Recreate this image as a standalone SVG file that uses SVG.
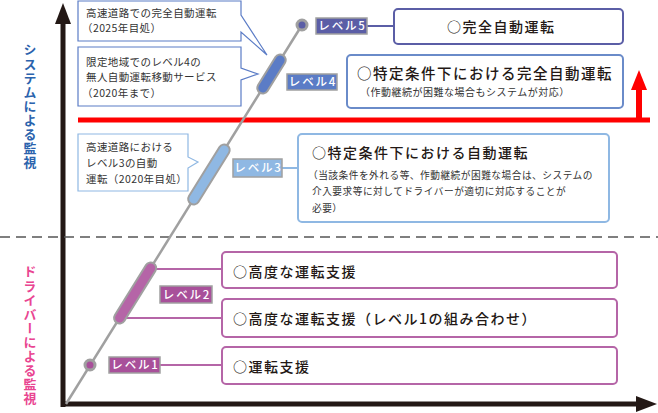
<svg xmlns="http://www.w3.org/2000/svg" width="658" height="413" viewBox="0 0 658 413">
<style>
text{font-family:"Noto Sans CJK JP","Noto Sans",sans-serif;}
.box{fill:#fff;stroke-width:2;}
.call{fill:#fff;stroke-width:1.2;}
.ct{font-size:10.5px;fill:#333;letter-spacing:0.4px;}
.mt{font-size:14px;fill:#231815;letter-spacing:1.5px;font-weight:500;}
.st{font-size:9.7px;fill:#333;letter-spacing:0.5px;}
.lb{stroke:#a0a0a0;stroke-width:1.5;}
.lt{font-size:11.5px;fill:#fff;letter-spacing:1.8px;text-anchor:middle;font-weight:500;}
.cap{stroke:#a0a0a0;stroke-width:13;stroke-linecap:round;}
.capi{stroke-width:9;stroke-linecap:round;}
.vt{writing-mode:vertical-rl;text-orientation:upright;font-size:13px;font-weight:bold;letter-spacing:1.1px;}
</style>

<g id="axes">
<line x1="63" y1="22" x2="63" y2="407" stroke="#231815" stroke-width="5"/>
<polygon points="63,3 55,24 71,24" fill="#231815"/>
<line x1="61" y1="404" x2="638" y2="404" stroke="#231815" stroke-width="5"/>
<polygon points="657,404 636,396 636,412" fill="#231815"/>
<line x1="0" y1="237" x2="658" y2="237" stroke="#555" stroke-width="1.5" stroke-dasharray="10,6"/>
<line x1="78" y1="120" x2="650" y2="120" stroke="#f00" stroke-width="5"/>
<line x1="639" y1="122" x2="639" y2="88" stroke="#f00" stroke-width="6"/>
<polygon points="639,70 631,90 647,90" fill="#f00"/>
</g>

<g id="axis-labels">
<text class="vt" x="30" y="43" fill="#2b63ad">システムによる監視</text>
<text class="vt" x="30" y="265" fill="#e94591">ドライバーによる監視</text>
</g>

<g id="connectors">
<line x1="66" y1="404" x2="302" y2="25" stroke="#a0a0a0" stroke-width="2.5"/>
<line x1="367" y1="26" x2="394" y2="26" stroke="#5b5ea6" stroke-width="2"/>
<line x1="282" y1="168" x2="298" y2="168" stroke="#8fb8e3" stroke-width="2"/>
<line x1="152" y1="269" x2="222" y2="269" stroke="#b565a7" stroke-width="2"/>
<line x1="122" y1="318" x2="222" y2="318" stroke="#b565a7" stroke-width="2"/>
<line x1="160" y1="365" x2="222" y2="365" stroke="#b565a7" stroke-width="2"/>
</g>

<g id="level5">
<circle cx="302" cy="25" r="5" fill="#5b5ea6" stroke="#a0a0a0" stroke-width="3"/>
<rect class="lb" x="316" y="18" width="51" height="16" fill="#5b5ea6"/>
<text class="lt" x="342.5" y="30">レベル5</text>
<rect class="box" x="394" y="9" width="229" height="35" rx="4" stroke="#5b5ea6"/>
<text class="mt" x="447" y="32">○完全自動運転</text>
</g>

<g id="level4">
<line class="cap" x1="262.8" y1="88" x2="280.2" y2="60"/>
<line class="capi" x1="262.8" y1="88" x2="280.2" y2="60" stroke="#5b7cc6"/>
<rect class="lb" x="287" y="74" width="50" height="16" fill="#5b7cc6"/>
<text class="lt" x="313" y="86">レベル4</text>
<rect class="box" x="347" y="55" width="276" height="53" rx="4" stroke="#6a8bc9"/>
<text class="mt" x="357" y="79" style="font-size:14.5px">○特定条件下における完全自動運転</text>
<text class="st" x="360" y="96" style="font-size:10px">（作動継続が困難な場合もシステムが対応）</text>
</g>

<g id="level3">
<line class="cap" x1="193.7" y1="199" x2="224.2" y2="150"/>
<line class="capi" x1="193.7" y1="199" x2="224.2" y2="150" stroke="#8fb8e3"/>
<rect class="lb" x="233" y="159" width="49" height="18" fill="#8fb8e3"/>
<text class="lt" x="258.5" y="172">レベル3</text>
<rect class="box" x="298" y="134" width="311" height="88" rx="4" stroke="#8fb8e3"/>
<text class="mt" x="312" y="158">○特定条件下における自動運転</text>
<text class="st" x="308" y="178.5">（当該条件を外れる等、作動継続が困難な場合は、システムの</text>
<text class="st" x="312" y="195">介入要求等に対してドライバーが適切に対応することが</text>
<text class="st" x="312" y="211.5">必要）</text>
</g>

<g id="level2">
<line class="cap" x1="119.6" y1="318" x2="150.7" y2="268"/>
<line class="capi" x1="119.6" y1="318" x2="150.7" y2="268" stroke="#b565a7"/>
<rect class="lb" x="160" y="286" width="52" height="17" fill="#a8509a"/>
<text class="lt" x="187" y="299">レベル2</text>
<rect class="box" x="222" y="252" width="395" height="36" rx="4" stroke="#b565a7"/>
<text class="mt" x="233" y="277">○高度な運転支援</text>
<rect class="box" x="222" y="299" width="395" height="38" rx="4" stroke="#b565a7"/>
<text class="mt" x="233" y="324">○高度な運転支援（レベル1の組み合わせ）</text>
</g>

<g id="level1">
<circle cx="90" cy="365" r="5" fill="#a8509a" stroke="#a0a0a0" stroke-width="3"/>
<rect class="lb" x="109" y="357" width="51" height="16" fill="#a8509a"/>
<text class="lt" x="135.5" y="369">レベル1</text>
<rect class="box" x="222" y="347" width="395" height="37" rx="4" stroke="#b565a7"/>
<text class="mt" x="233" y="372">○運転支援</text>
</g>

<g id="callout1">
<path class="call" d="M78,1 H241 V15 L267,55 L241,32 V41 H78 Z" stroke="#5b7cc6"/>
<text class="ct" x="86" y="17">高速道路での完全自動運転</text>
<text class="ct" x="82" y="32">（2025年目処）</text>
</g>

<g id="callout2">
<path class="call" d="M78,47 H241 V68 L258,74 L241,80 V106 H78 Z" stroke="#5b7cc6"/>
<text class="ct" x="86" y="66">限定地域でのレベル4の</text>
<text class="ct" x="86" y="81">無人自動運転移動サービス</text>
<text class="ct" x="82" y="97">（2020年まで）</text>
</g>

<g id="callout3">
<path class="call" d="M78,134 H188 V157 L198,162 L188,168 V191 H78 Z" stroke="#8fb8e3"/>
<text class="ct" x="86" y="151">高速道路における</text>
<text class="ct" x="86" y="167">レベル3の自動</text>
<text class="ct" x="86" y="183">運転（2020年目処）</text>
</g>
</svg>
